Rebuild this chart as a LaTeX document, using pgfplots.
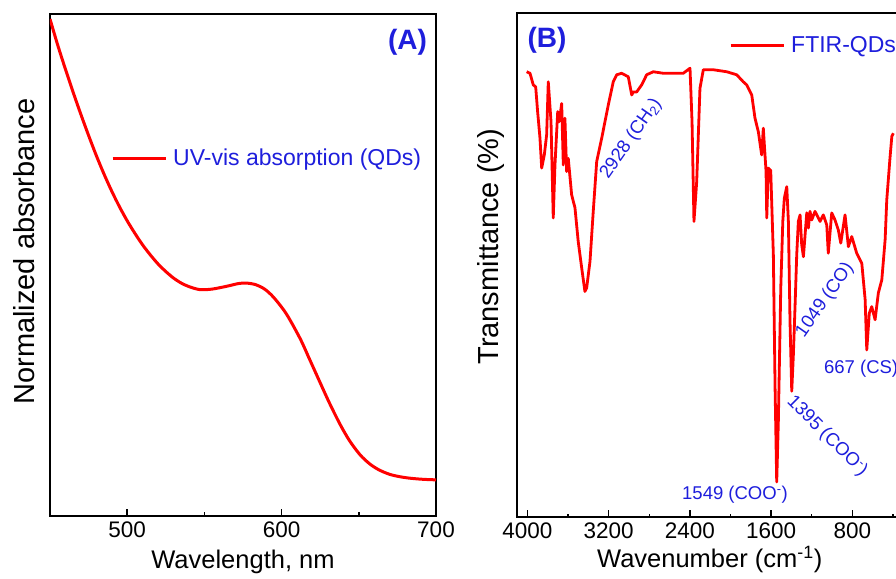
\documentclass[border=0pt]{standalone}
\usepackage{pgfplots}
\pgfplotsset{compat=1.18}
\usepackage{fontspec}
\setmainfont{Liberation Sans}
\definecolor{ublue}{RGB}{30,30,220}

% UV-vis spectrum (normalized)
\pgfplotstableread{
wl   A
450.0 0.990
455.0 0.938
460.0 0.890
465.0 0.844
470.0 0.800
475.0 0.758
480.0 0.718
485.0 0.681
490.0 0.647
495.0 0.616
500.0 0.588
505.0 0.563
510.0 0.540
515.0 0.520
520.0 0.502
525.0 0.487
530.0 0.474
535.0 0.464
540.0 0.457
547.0 0.451
555.0 0.452
565.0 0.458
572.0 0.463
577.0 0.464
583.0 0.461
589.0 0.452
595.0 0.435
603.0 0.403
611.9 0.354
618.0 0.313
624.9 0.266
631.0 0.225
637.8 0.183
644.0 0.150
650.8 0.122
657.0 0.104
663.0 0.092
670.0 0.083
677.0 0.078
684.0 0.075
692.0 0.073
700.0 0.072
}\uvdata

% FTIR spectrum
\pgfplotstableread{
wn   T
4008 88.4
3975 88.1
3943 85.8
3919 85.4
3900 80.5
3877 75.3
3860 69.3
3834 71.9
3811 75.9
3795 86.4
3768 78.5
3746 59.4
3729 69.9
3702 80.5
3687 78.5
3663 82.1
3647 69.9
3631 79.2
3614 68.6
3598 71.2
3565 64.0
3532 61.4
3500 54.7
3466 49.5
3434 44.8
3417 45.5
3384 50.8
3352 60.7
3318 70.6
3269 75.2
3204 81.8
3155 86.4
3121 87.8
3072 88.1
3007 87.4
2973 83.8
2958 84.4
2924 84.4
2875 85.8
2826 87.8
2761 88.4
2662 88.1
2564 88.1
2465 88.1
2399 89.1
2379 78.5
2360 58.7
2333 66.6
2301 85.1
2268 88.8
2170 88.8
2037 88.4
1939 87.8
1874 86.4
1841 85.8
1791 83.8
1759 79.2
1726 76.5
1693 71.9
1677 77.2
1650 68.6
1643 59.4
1628 69.3
1604 68.8
1578 52.0
1561 25.6
1545 7.0
1529 18.9
1505 45.5
1485 58.7
1470 63.3
1446 65.6
1430 58.7
1414 38.9
1397 25.0
1381 32.2
1364 42.1
1348 52.0
1332 58.7
1315 60.0
1299 54.1
1282 51.7
1249 60.4
1233 57.4
1217 60.7
1200 59.0
1168 60.7
1118 58.7
1086 60.0
1052 58.0
1037 52.4
1003 60.4
971 59.0
938 57.0
914 54.4
872 60.0
839 53.7
806 55.7
757 52.4
707 50.4
674 43.2
658 33.2
633 40.5
609 41.8
576 39.2
544 44.5
510 47.1
477 55.1
461 63.0
428 71.6
411 75.6
396 76.2
}\ftirdata

\pgfplotsset{
  panel/.style={
    scale only axis, width=386pt, anchor=south west,
    axis line style={line width=1.8pt},
    tick style={line width=1.5pt, black},
    major tick length=7pt, minor tick length=3.5pt,
    tick align=inside, xtick pos=bottom, ytick=\empty,
    scaled x ticks=false,
    /pgf/number format/1000 sep={},
    /pgf/number format/assume math mode=true,
    tick label style={font=\fontsize{22.5}{26}\selectfont},
    xticklabel style={yshift=-2pt},
    xlabel style={font=\fontsize{25.5}{30}\selectfont, anchor=base},
    ylabel style={font=\fontsize{29}{34}\selectfont, anchor=base},
    legend image code/.code={\draw[red, line width=3pt] (0pt,0pt) -- (53pt,0pt);},
    legend style={draw=none, fill=none, anchor=west, inner sep=0pt,
      font=\fontsize{23}{27}\selectfont, text=ublue,
      nodes={inner sep=1pt}, column sep=5pt},
  }
}

\begin{document}
\begin{tikzpicture}
\useasboundingbox (0,0) rectangle (896pt,578pt);
\clip (0,0) rectangle (896pt,578pt);

\begin{axis}[panel,
  at={(50pt,62pt)}, height=502pt,
  xmin=450, xmax=700, ymin=0, ymax=1,
  xtick={500,600,700}, minor xtick={550,650},
  xlabel={Wavelength, nm},
  ylabel={Normalized absorbance},
  xlabel style={at={(axis description cs:0.5,-0.1036)}},
  ylabel style={at={(axis description cs:-0.0389,0.527)}},
  legend style={at={(axis description cs:0.158,0.713)}},
]
\addplot[red, line width=3pt, smooth, tension=0.5] table[x=wl, y=A] {\uvdata};
\addlegendentry{UV-vis absorption (QDs)}
\node[font=\bfseries\fontsize{28}{32}\selectfont, text=ublue] at (axis description cs:0.926,0.944) {(A)};
\end{axis}

\begin{axis}[panel,
  at={(516.7pt,60.7pt)}, height=504pt,
  x dir=reverse, xmin=304, xmax=4106, ymin=0, ymax=100,
  xtick={4000,3200,2400,1600,800}, minor xtick={3600,2800,2000,1200,400},
  xlabel={Wavenumber (cm\textsuperscript{-1})},
  ylabel={Transmittance (\%)},
  xlabel style={at={(axis description cs:0.5,-0.1002)}},
  ylabel style={at={(axis description cs:-0.0484,0.537)}},
  legend style={at={(axis description cs:0.550,0.937)}},
]
\addplot[red, line width=2.8pt, line join=round] table[x=wn, y=T] {\ftirdata};
\addlegendentry{FTIR-QDs}
\node[font=\bfseries\fontsize{28}{32}\selectfont, text=ublue] at (axis description cs:0.0785,0.947) {(B)};
\begin{scope}[every node/.style={font=\fontsize{18.5}{22}\selectfont, text=ublue, inner sep=0pt}]
\node[rotate=55] at (axis cs:2980,75.1) {2928 (CH\textsubscript{2})};
\node[rotate=55] at (axis cs:1069,43.1) {1049 (CO)};
\node[rotate=-45] at (axis cs:1049,16.1) {1395 (COO\textsuperscript{-})};
\node at (axis cs:1956,4.4) {1549 (COO\textsuperscript{-})};
\node[anchor=west] at (axis cs:1080,29.4) {667 (CS)};
\end{scope}
\end{axis}
\end{tikzpicture}
\end{document}
